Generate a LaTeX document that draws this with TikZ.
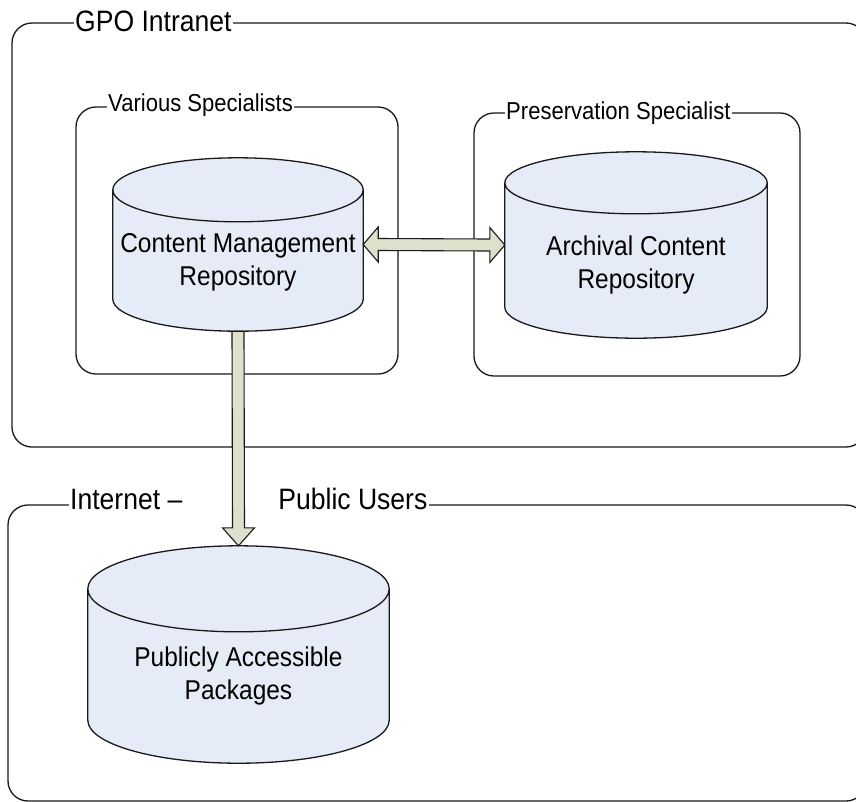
\documentclass[tikz,border=0pt]{standalone}
\usepackage{fontspec}
\setmainfont{Liberation Sans}[FakeStretch=0.9]
\usetikzlibrary{calc}

\definecolor{dbblue}{RGB}{230,236,247}
\definecolor{arrowgreen}{RGB}{221,225,203}

\tikzset{
  zone/.style={draw=black!90, line width=1.3pt, rounded corners=20pt},
  zonelabel/.style={fill=white, inner xsep=1.5pt, inner ysep=1pt, anchor=base west,
    font=\fontsize{29.5}{32}\selectfont},
  sublabel/.style={zonelabel, font=\fontsize{24.5}{28}\selectfont},
  dbbox/.style={inner sep=0pt},
  dbline/.style={draw=black!90, line width=1.3pt, fill=dbblue},
  dbtext/.style={align=center, font=\fontsize{27.2}{33}\selectfont},
  fatarrow/.style={draw=black!90, line width=1.1pt, fill=arrowgreen, line join=miter}
}

\begin{document}
\begin{tikzpicture}[x=1pt,y=-1pt]
      \useasboundingbox (0,0) rectangle (856,801);
      \clip (0,0) rectangle (856,801);
      % zones
      \draw[zone] (12,23) rectangle (866,447);
      \draw[zone] (8,505) rectangle (866,801);
      \draw[zone] (76,107) rectangle (398,374);
      \draw[zone] (474,113) rectangle (800,376);
      \node[zonelabel] (gpo) at (73.5,31.7) {GPO Intranet};
      \node[zonelabel] (net) at (68.5,509) {Internet –\hspace{96pt}Public Users};
      \node[sublabel] (spec) at (106.5,111.7) {Various Specialists};
      \node[sublabel] (pres) at (504.5,119) {Preservation Specialist};
      % repositories
      \node[dbbox, minimum width=250pt, minimum height=173pt] (cmr) at (238,244.5) {};
      \node[dbbox, minimum width=262pt, minimum height=186pt] (acr) at (636,245) {};
      \node[dbbox, minimum width=301pt, minimum height=217pt] (pap) at (238.5,654.5) {};
      \foreach \db/\ry in {cmr/32, acr/31, pap/43}{
        \draw[dbline] let \p1=(\db.north west), \p2=(\db.south east), \n1={(\x2-\x1)/2} in
          (\x1,\y1-\ry pt) -- (\x1,\y2+\ry pt)
          arc[start angle=180, end angle=360, x radius=\n1, y radius=\ry pt]
          -- (\x2,\y1-\ry pt)
          arc[start angle=0, end angle=180, x radius=\n1, y radius=\ry pt] -- cycle
          (\x1,\y1-\ry pt) arc[start angle=180, end angle=360, x radius=\n1, y radius=\ry pt];
      }
      \node[dbtext] (cmrtext) at ($(cmr.center)+(0,18)$) {Content Management\\Repository};
      \node[dbtext] (acrtext) at ($(acr.center)+(0,20)$) {Archival Content\\Repository};
      \node[dbtext] (paptext) at ($(pap.center)+(0,21.5)$) {Publicly Accessible\\Packages};
      % transfers
      \draw[fatarrow] (cmr.east) -- ++(15,-17.5) -- ++(0,11.5) -- ($(acr.west)+(-15,-6)$)
        -- ($(acr.west)+(-15,-17.5)$) -- (acr.west) -- ($(acr.west)+(-15,17.5)$)
        -- ($(acr.west)+(-15,6)$) -- ($(cmr.east)+(15,6)$) -- ($(cmr.east)+(15,17.5)$) -- cycle;
      \draw[fatarrow] ($(cmr.south)+(-6,0)$) -- ($(pap.north)+(-6,-18)$) -- ($(pap.north)+(-16,-18)$)
        -- (pap.north) -- ($(pap.north)+(16,-18)$) -- ($(pap.north)+(6,-18)$)
        -- ($(cmr.south)+(6,0)$) -- cycle;
\end{tikzpicture}
\end{document}
